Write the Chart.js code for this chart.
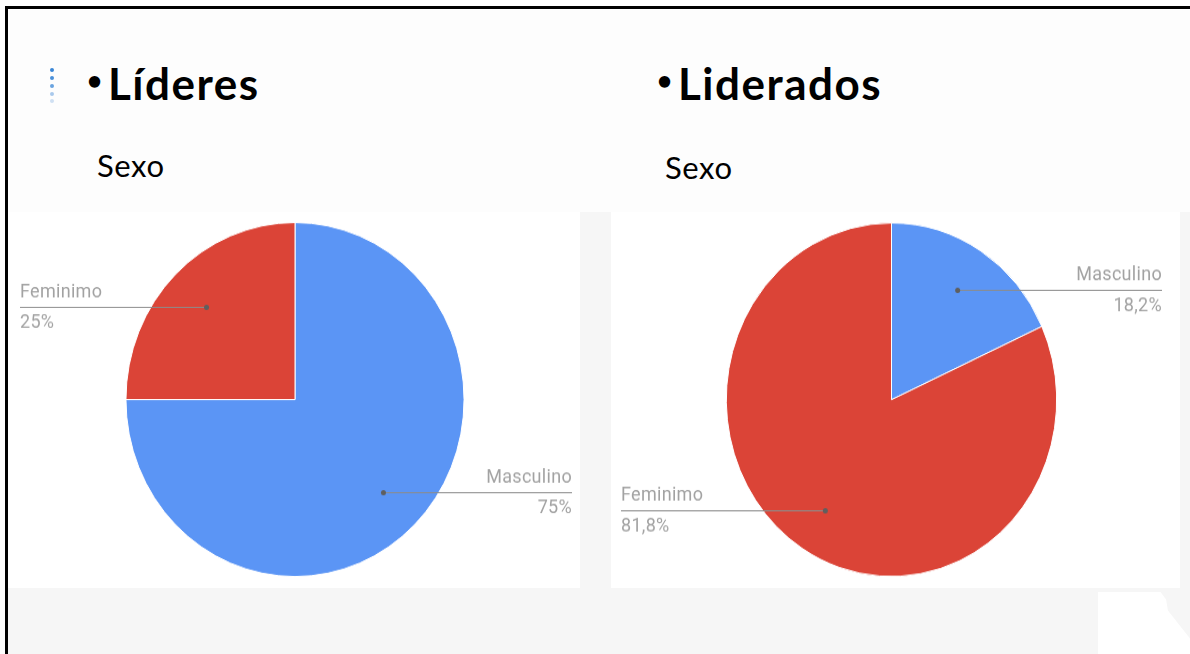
<!DOCTYPE html>
<html>
<head>
<meta charset="utf-8">
<script src="https://cdn.jsdelivr.net/npm/chart.js@4.4.1/dist/chart.umd.min.js"></script>
<style>
  html, body { margin:0; padding:0; }
  body { width:1190px; height:654px; position:relative; overflow:hidden; background:#fdfdfd; font-family: Lato, "Open Sans", sans-serif; }
  .abs { position:absolute; }
  .bl { left:5px; top:6px; width:3px; height:648px; background:#000; }
  .bt { left:5px; top:6px; width:1185px; height:3px; background:#000; }
  .lower { left:8px; top:212px; width:1182px; height:442px; background:#f6f6f6; }
  .panel { background:#ffffff; }
  .title { font-weight:700; font-size:44px; letter-spacing:1.5px; color:#000; white-space:nowrap; line-height:1; }
  .bullet { font-weight:700; font-size:26px; color:#000; line-height:1; }
  .sub { font-size:31px; letter-spacing:0.6px; color:#000; white-space:nowrap; line-height:1; }
  .dot { position:absolute; width:4px; height:4px; border-radius:50%; }
  .wrap { position:absolute; }
</style>
</head>
<body>
<div class="abs lower"></div>
<div class="abs panel" style="left:8px;top:212px;width:572px;height:376px;"></div>
<div class="abs panel" style="left:611px;top:212px;width:569px;height:376px;"></div>
<div class="abs" style="left:1098px;top:592px;width:92px;height:62px;background:#fff;clip-path:polygon(0 0,68% 0,74% 12%,76% 30%,100% 75%,100% 100%,0 100%);"></div>
<div class="abs bl"></div>
<div class="abs bt"></div>

<div class="dot" style="left:50px;top:68px;background:#3a86d6;"></div>
<div class="dot" style="left:50px;top:76px;background:#4a90da;"></div>
<div class="dot" style="left:50px;top:84px;background:#6aa3df;"></div>
<div class="dot" style="left:50px;top:92px;background:#a9c9ec;"></div>
<div class="dot" style="left:50px;top:99px;background:#cfe0f3;"></div>

<div class="abs bullet" style="left:87px;top:67px;">•</div>
<div class="abs title" style="left:108px;top:61px;">Líderes</div>
<div class="abs bullet" style="left:657px;top:67px;">•</div>
<div class="abs title" style="left:678px;top:61px;">Liderados</div>
<div class="abs sub" style="left:97px;top:150px;">Sexo</div>
<div class="abs sub" style="left:665px;top:152px;">Sexo</div>

<div class="wrap" id="w1"><canvas id="c1"></canvas></div>
<div class="wrap" id="w2"><canvas id="c2"></canvas></div>

<script>
// ---- data ----
const categories = ['Masculino', 'Feminimo'];
const lideresValues = [75, 25];
const lideradosValues = [18.2, 81.8];
const sliceColors = ['#5b95f5', '#db4437'];

function fmtPct(v, total) {
  const p = Math.round(v / total * 1000) / 10;
  return String(p).replace('.', ',') + '%';
}

const leaderPlugin = {
  id: 'leader',
  afterDatasetsDraw(chart, args, opts) {
    const ctx = chart.ctx;
    const meta = chart.getDatasetMeta(0);
    const vals = chart.data.datasets[0].data;
    const total = vals.reduce((a, b) => a + b, 0);
    ctx.save();
    meta.data.forEach((arc, i) => {
      const p = arc.getProps(['x', 'y', 'startAngle', 'endAngle', 'outerRadius'], true);
      const mid = (p.startAngle + p.endAngle) / 2;
      const px = p.x + Math.cos(mid) * p.outerRadius * opts.frac;
      const py = p.y + Math.sin(mid) * p.outerRadius * opts.frac;
      const left = px < p.x;
      const ex = left ? opts.left : chart.width - opts.right;
      ctx.strokeStyle = '#8c8c8c';
      ctx.lineWidth = 1;
      ctx.beginPath();
      ctx.moveTo(ex, Math.round(py) + 0.5);
      ctx.lineTo(px, Math.round(py) + 0.5);
      ctx.stroke();
      ctx.fillStyle = '#5f5f5f';
      ctx.beginPath();
      ctx.arc(px, Math.round(py) + 0.5, 2.5, 0, Math.PI * 2);
      ctx.fill();
      ctx.font = '18px Roboto, Arial, sans-serif';
      if ('letterSpacing' in ctx) ctx.letterSpacing = '0.3px';
      ctx.fillStyle = '#a2a2a2';
      ctx.textAlign = left ? 'left' : 'right';
      ctx.textBaseline = 'alphabetic';
      ctx.fillText(chart.data.labels[i], ex, py - 9);
      ctx.fillText(fmtPct(vals[i], total), ex, py + 20);
    });
    ctx.restore();
  }
};

function makePie(canvasId, wrapId, values, box) {
  const w = document.getElementById(wrapId);
  const H = box.h / box.k;
  w.style.left = box.x + 'px';
  w.style.width = box.w + 'px';
  w.style.height = H + 'px';
  w.style.top = (box.y + box.h / 2 - H / 2) + 'px';
  w.style.transform = 'scaleY(' + box.k + ')';
  w.style.transformOrigin = '50% 50%';
  new Chart(document.getElementById(canvasId), {
    type: 'pie',
    data: {
      labels: categories,
      datasets: [{ data: values, backgroundColor: sliceColors, borderColor: '#ffffff', borderWidth: 1 }]
    },
    options: {
      responsive: true,
      maintainAspectRatio: false,
      animation: false,
      layout: { padding: box.pad },
      plugins: {
        legend: { display: false },
        tooltip: { enabled: false },
        leader: { frac: 0.74, left: box.lineL, right: box.lineR }
      }
    },
    plugins: [leaderPlugin]
  });
}

makePie('c1', 'w1', lideresValues, {
  x: 8, y: 212, w: 572, h: 376, k: 1.047,
  pad: { top: 10, bottom: 10, left: 2, right: 0 }, lineL: 12, lineR: 8
});
makePie('c2', 'w2', lideradosValues, {
  x: 611, y: 212, w: 569, h: 376, k: 1.07,
  pad: { top: 10, bottom: 10, left: 0, right: 8 }, lineL: 10, lineR: 18
});
</script>
</body>
</html>
